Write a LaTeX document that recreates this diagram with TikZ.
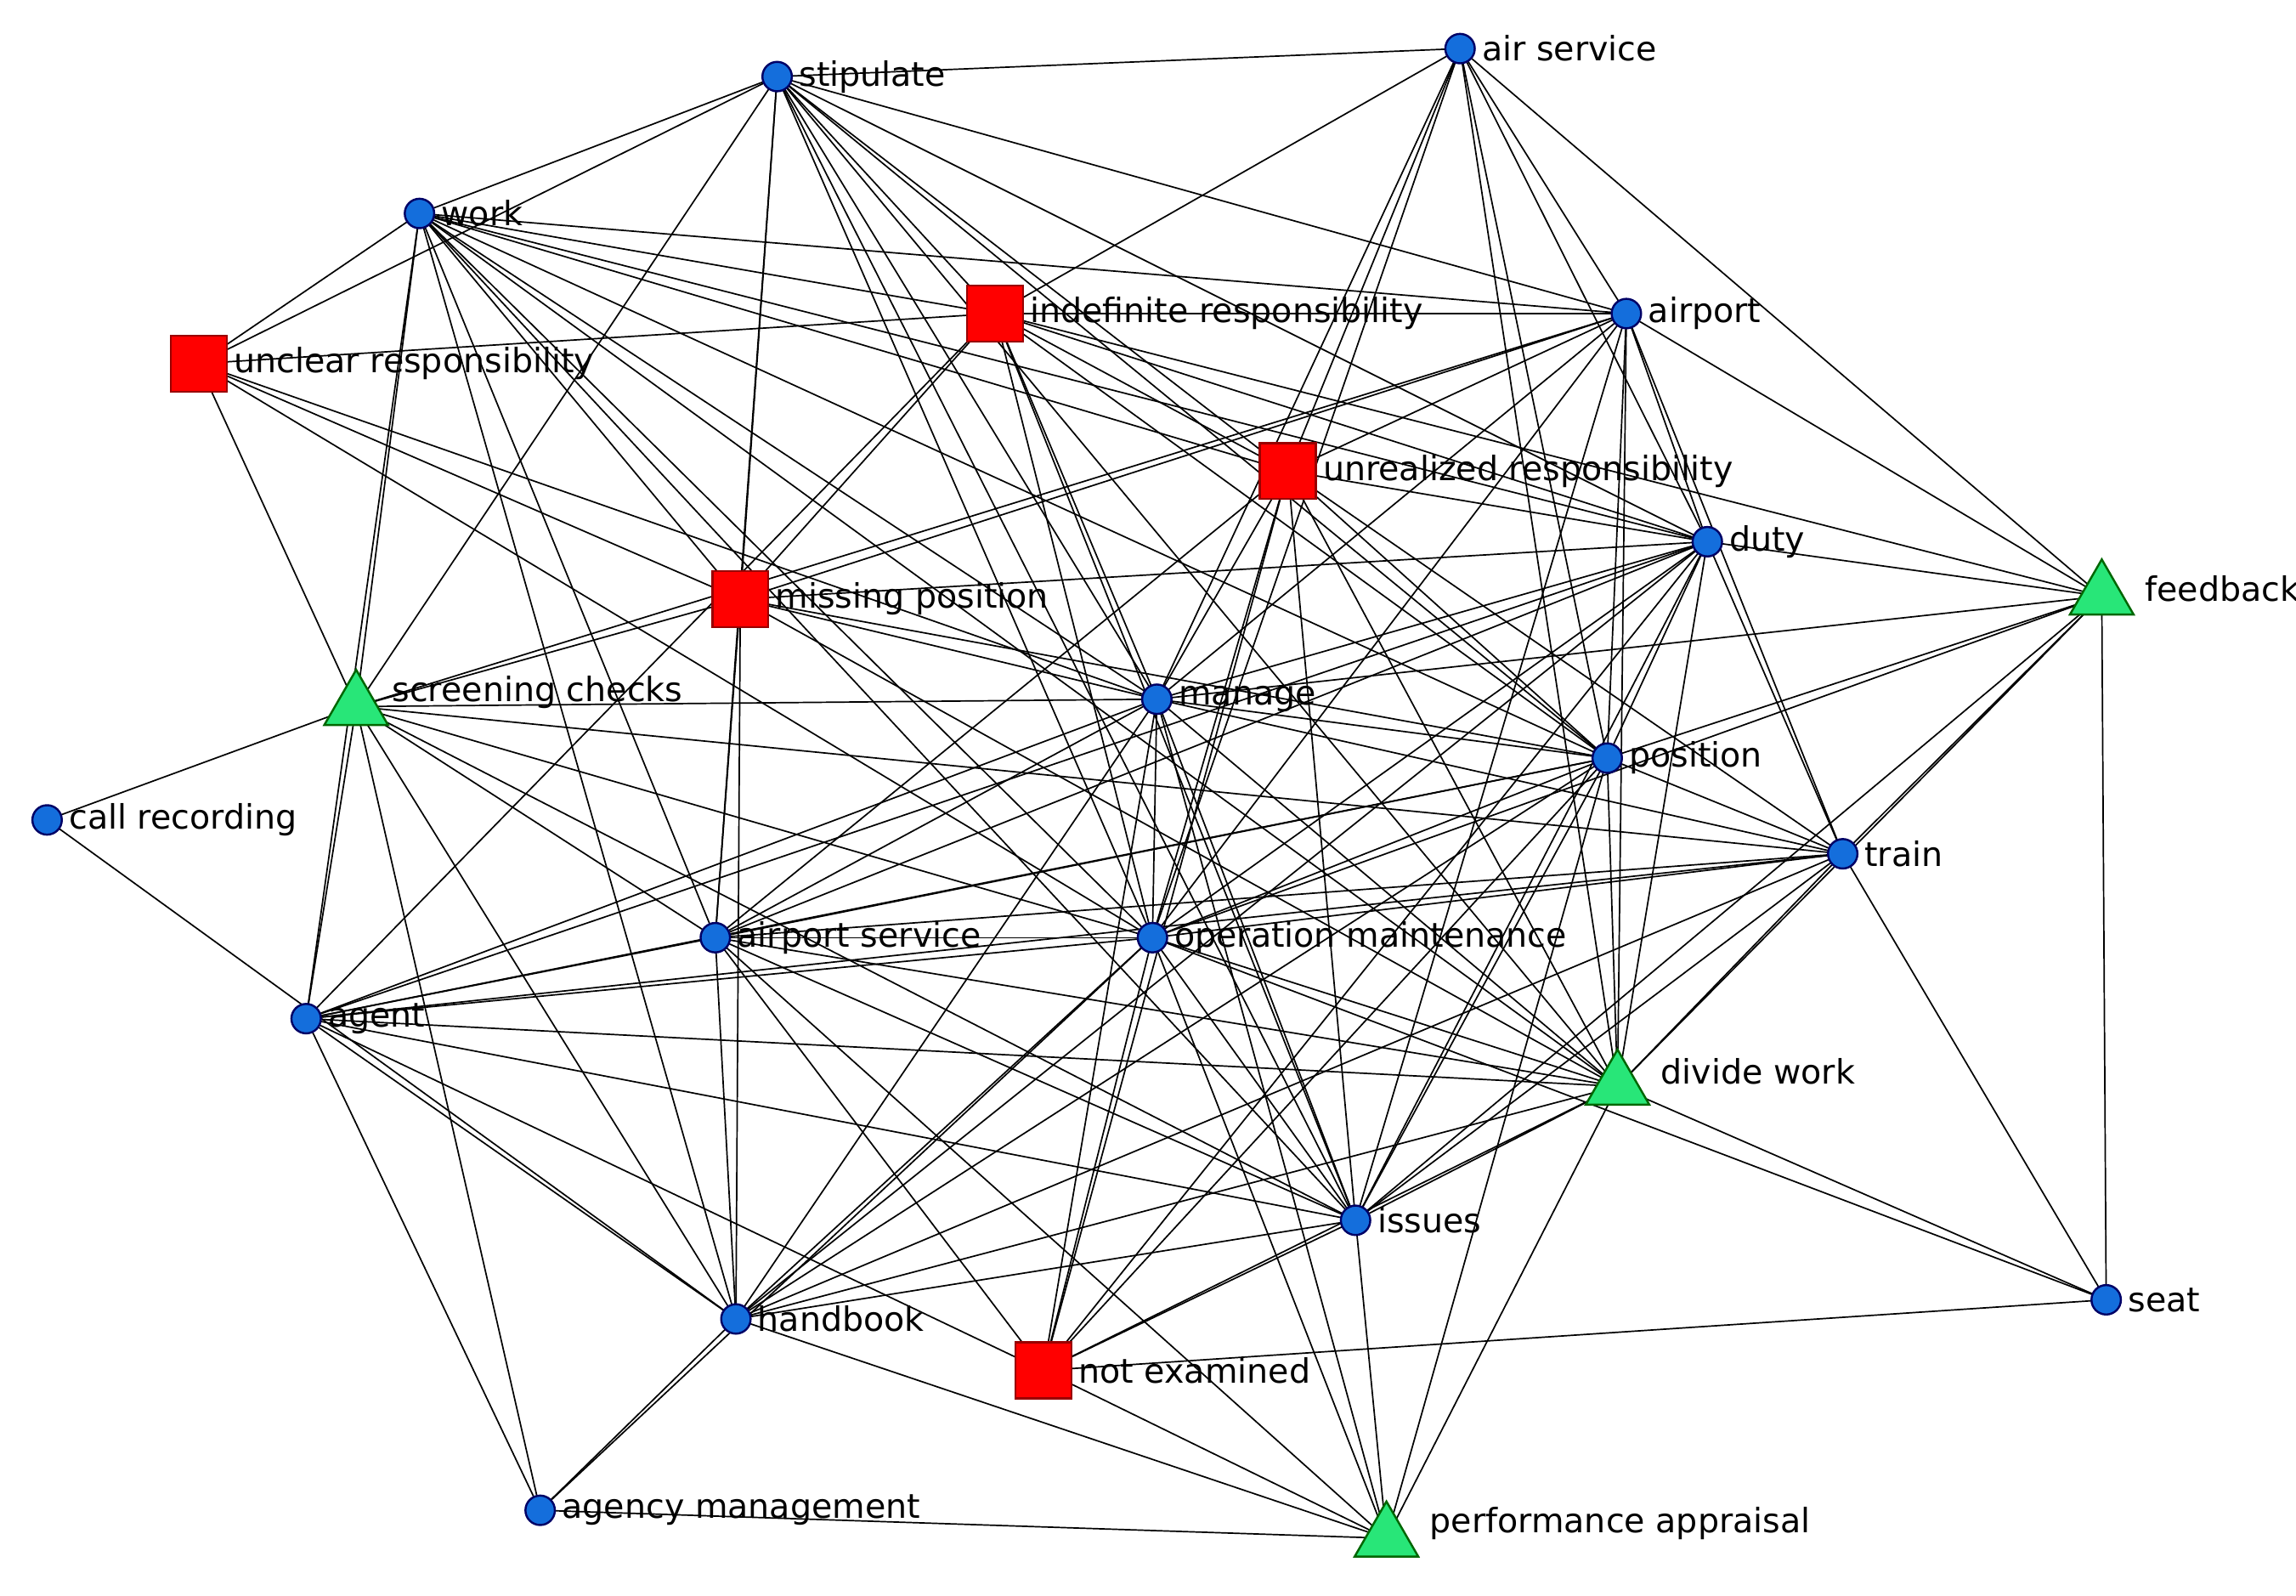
\documentclass[tikz,border=0pt]{standalone}
\usepackage{fontspec}
\setmainfont{DejaVu Sans}
\usetikzlibrary{shapes.geometric,backgrounds}
\definecolor{nodeblue}{RGB}{20,110,220}
\definecolor{nodegreen}{RGB}{40,230,120}
\tikzset{
  term/.style={circle,fill=nodeblue,draw=blue!40!black,inner sep=0pt,minimum size=0.2cm},
  fault/.style={rectangle,fill=red,draw=red!60!black,inner sep=0pt,minimum size=0.38cm},
  act/.style={regular polygon,regular polygon sides=3,fill=nodegreen,draw=green!40!black,inner sep=0pt,minimum size=0.5cm},
  lbl/.style={font=\fontsize{6.5}{8}\selectfont,inner sep=1pt,anchor=west},
  tie/.style={black,line width=0.28pt}
}
\begin{document}
\begin{tikzpicture}
	\useasboundingbox (0,0) rectangle (15.6,-10.84);
	
	% nodes
	\node[term] (stip) at (5.28,-0.52){};
	\node[term] (airs) at (9.92,-0.33){};
	\node[term] (work) at (2.85,-1.45){};
	\node[fault] (indef) at (6.76,-2.13){};
	\node[term] (aport) at (11.05,-2.13){};
	\node[fault] (uncl) at (1.35,-2.47){};
	\node[fault] (unre) at (8.75,-3.20){};
	\node[term] (duty) at (11.60,-3.68){};
	\node[fault] (miss) at (5.03,-4.07){};
	\node[act] (feed) at (14.28,-4.05){};
	\node[act] (scre) at (2.42,-4.80){};
	\node[term] (mang) at (7.86,-4.75){};
	\node[term] (posi) at (10.92,-5.15){};
	\node[term] (call) at (0.32,-5.57){};
	\node[term] (trai) at (12.52,-5.80){};
	\node[term] (asrv) at (4.86,-6.37){};
	\node[term] (opma) at (7.83,-6.37){};
	\node[term] (agnt) at (2.08,-6.92){};
	\node[act] (divw) at (10.99,-7.38){};
	\node[term] (issu) at (9.21,-8.29){};
	\node[term] (seat) at (14.31,-8.83){};
	\node[term] (hand) at (5.00,-8.96){};
	\node[fault] (note) at (7.09,-9.31){};
	\node[term] (agcy) at (3.67,-10.26){};
	\node[act] (perf) at (9.42,-10.45){};
	
	% labels
	\node[lbl] at (stip.east){stipulate};
	\node[lbl] at (airs.east){air service};
	\node[lbl] at (work.east){work};
	\node[lbl] at (indef.east){indefinite responsibility};
	\node[lbl] at (aport.east){airport};
	\node[lbl] at (uncl.east){unclear responsibility};
	\node[lbl] at (unre.east){unrealized responsibility};
	\node[lbl] at (duty.east){duty};
	\node[lbl] at (miss.east){missing position};
	\node[lbl] at ([xshift=0.1cm,yshift=0.05cm]feed.east){feedback};
	\node[lbl] at ([xshift=0.05cm,yshift=0.1cm]scre.east){screening checks};
	\node[lbl] at (mang.east){manage};
	\node[lbl] at (posi.east){position};
	\node[lbl] at (call.east){call recording};
	\node[lbl] at (trai.east){train};
	\node[lbl] at (asrv.east){airport service};
	\node[lbl] at (opma.east){operation maintenance};
	\node[lbl] at (agnt.east){agent};
	\node[lbl] at ([xshift=0.1cm,yshift=0.1cm]divw.east){divide work};
	\node[lbl] at (issu.east){issues};
	\node[lbl] at (seat.east){seat};
	\node[lbl] at (hand.east){handbook};
	\node[lbl] at (note.east){not examined};
	\node[lbl] at (agcy.east){agency management};
	\node[lbl] at ([xshift=0.1cm,yshift=0.1cm]perf.east){performance appraisal};
	
	% ties
	\begin{pgfonlayer}{background}
	\foreach \a/\bs in {
		stip/{airs,work,indef,aport,uncl,miss,scre,mang,posi,duty,opma,asrv,unre,issu,divw},
		airs/{indef,aport,duty,unre,mang,posi,feed,opma,divw},
		work/{uncl,indef,aport,unre,miss,scre,mang,posi,duty,asrv,opma,hand,agnt,issu,divw},
		uncl/{indef,scre,mang,opma,miss},
		indef/{aport,duty,unre,miss,mang,opma,feed,issu,posi,agnt},
		aport/{unre,miss,duty,posi,mang,opma,trai,divw,issu,scre,feed},
		unre/{duty,mang,opma,posi,trai,divw,issu,asrv,note},
		duty/{miss,feed,mang,posi,trai,opma,asrv,divw,issu,agnt,note,hand},
		miss/{scre,mang,asrv,hand,divw,posi},
		feed/{mang,posi,trai,opma,seat,divw,issu},
		scre/{call,agnt,mang,trai,asrv,opma,hand,issu,agcy},
		mang/{posi,opma,asrv,agnt,hand,note,issu,divw,perf,trai},
		posi/{trai,opma,asrv,agnt,divw,issu,note,perf,hand},
		call/{hand},
		trai/{opma,asrv,seat,divw,issu,hand,agnt},
		asrv/{opma,agnt,hand,issu,divw,perf,note},
		opma/{agnt,divw,issu,hand,note,perf,seat,agcy},
		agnt/{divw,issu,agcy,note,hand},
		divw/{issu,seat,hand,note,perf},
		issu/{note,hand,perf},
		seat/{note},
		hand/{agcy,perf},
		agcy/{perf},
		note/{perf}}
	{
		\foreach \b in \bs
			\draw[tie] (\a.center) -- (\b.center);
	}
	\end{pgfonlayer}
\end{tikzpicture}
\end{document}
